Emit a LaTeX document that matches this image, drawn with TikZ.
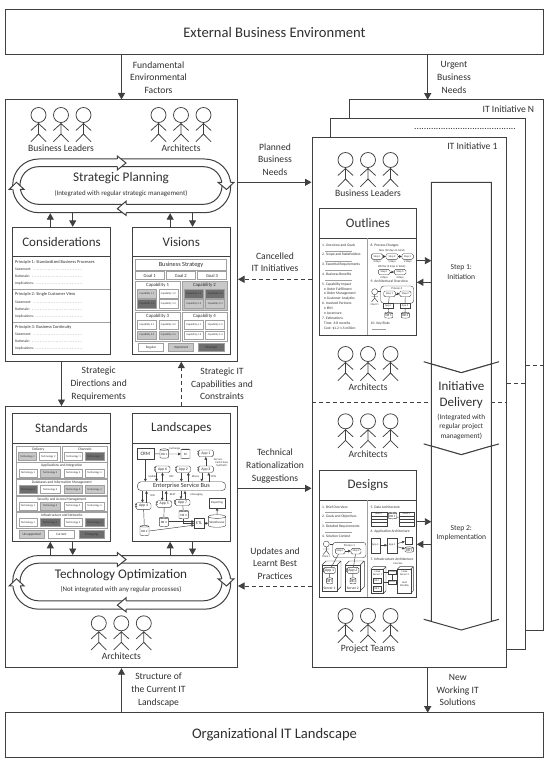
\documentclass[tikz,border=0pt]{standalone}
\usepackage{fontspec}
\setmainfont{Carlito}
\usepackage{tikz}
\usetikzlibrary{arrows.meta,shapes.geometric}
\definecolor{inkGray}{HTML}{303030}
\definecolor{lineGray}{HTML}{404040}
\definecolor{rimGray}{HTML}{A0A0A0}
\definecolor{lightFill}{HTML}{C8C8C8}
\definecolor{darkFill}{HTML}{6E6E6E}
\tikzstyle{heavyBox}=[shape = rectangle, draw = lineGray, line width = 1pt, fill = white, inner sep = 0pt]
\tikzstyle{titleBox}=[heavyBox, font = \fontsize{14.6}{16}\selectfont]
\tikzstyle{flow}=[draw = lineGray, line width = 0.9pt, -{Triangle[length = 6.5pt, width = 7pt]}]
\tikzstyle{flowDash}=[flow, dash pattern = on 4pt off 3pt]
\tikzstyle{flowLabel}=[align = center, font = \fontsize{9.6}{12.6}\selectfont]
\tikzstyle{crowdLabel}=[font = \fontsize{9.6}{12}\selectfont]
\tikzstyle{panelTitle}=[font = \fontsize{13}{15}\selectfont]
\tikzstyle{ringTitle}=[font = \fontsize{13.2}{15}\selectfont]
\tikzstyle{ringNote}=[font = \fontsize{6.9}{8}\selectfont]
\tikzstyle{regularCell}=[shape = rectangle, draw = rimGray, line width = 0.5pt, fill = white, inner sep = 0pt, font = \fontsize{2.7}{3}\selectfont]
\tikzstyle{importantCell}=[regularCell, fill = lightFill]
\tikzstyle{strategicCell}=[regularCell, fill = darkFill]
\tikzstyle{panelCell}=[regularCell, font = \fontsize{4.6}{5}\selectfont]
\tikzstyle{microText}=[inner sep = 0pt, font = \fontsize{3.6}{4}\selectfont]
\tikzstyle{smallText}=[inner sep = 0pt, font = \fontsize{4.4}{5}\selectfont]
\tikzstyle{wire}=[draw = lineGray, line width = 0.45pt]
\tikzstyle{wireTip}=[wire, -{Triangle[length = 2.6pt, width = 2.6pt]}]
\tikzstyle{sketchBox}=[regularCell, draw = lineGray, line width = 0.4pt, font = \fontsize{3}{3.5}\selectfont]
\tikzstyle{appBox}=[sketchBox, rounded corners = 1.5pt, font = \fontsize{3.8}{4}\selectfont]
\tikzstyle{dbDrum}=[shape = cylinder, shape border rotate = 90, aspect = 0.25, draw = lineGray, line width = 0.4pt, fill = white, inner sep = 0pt, font = \fontsize{3.2}{4}\selectfont]
\newcommand{\RBox}[7][heavyBox]{%
\pgfmathsetmacro\bW{(#5)-(#3)}\pgfmathsetmacro\bH{(#6)-(#4)}%
\node[#1, minimum width = \bW pt, minimum height = \bH pt] (#2) at ({((#3)+(#5))/2},{((#4)+(#6))/2}) {#7};}
\newcommand{\Drum}[6]{%
\pgfmathsetmacro\bW{(#4)-(#2)}\pgfmathsetmacro\bH{(#5)-(#3)}%
\node[dbDrum, minimum width = \bW pt, minimum height = \bH pt] (#1) at ({((#2)+(#4))/2},{((#3)+(#5))/2}) {#6};}
\newcommand{\Person}[3]{%
\node[shape = circle, draw = lineGray, line width = 0.75pt, inner sep = 0pt, minimum size = 15pt] (#1) at (#2,#3) {};
\draw[draw = lineGray, line width = 0.75pt] (#1.south) -- (#2,#3+19) -- (#2-7.6,#3+26.7) (#2,#3+19) -- (#2+7.6,#3+26.7) (#2-7.6,#3+15.5) -- (#2,#3+8.5) -- (#2+7.6,#3+15.5);}
\newcommand{\Crowd}[4]{%
\Person{#1a}{#2-22.5}{#3}\Person{#1b}{#2}{#3}\Person{#1c}{#2+22.5}{#3}
\node[crowdLabel] (#1label) at (#2,#3+33.3) {#4};}
\newcommand{\Cycle}[4]{%
\begin{scope}[shift = {(0,#2)}]
\RBox[heavyBox, rounded corners = 26pt]{#1Out}{12.7}{159}{230.7}{212.7}{}
\RBox[heavyBox, rounded corners = 18.5pt]{#1In}{20}{166.7}{222}{204.3}{}
\draw[draw = lineGray, line width = 1pt, fill = white] (117.3,159) -- (117.3,156) -- (126,163) -- (117.3,170) -- (117.3,166.7);
\draw[draw = lineGray, line width = 1pt, fill = white] (222,182.3) -- (218,182.3) -- (226.5,189.5) -- (234,182.3) -- (230.7,182.3);
\draw[draw = lineGray, line width = 1pt, fill = white] (126,212.7) -- (126,215.3) -- (117.3,208.7) -- (126,201.3) -- (126,204.3);
\draw[draw = lineGray, line width = 1pt, fill = white] (12.7,189.3) -- (9.3,189.3) -- (16.5,182.3) -- (24,189.3) -- (20,189.3);
\node[ringTitle] (#1Title) at (121,178.3) {#3};
\node[ringNote] (#1Note) at (121,193.3) {#4};
\end{scope}}
\newcommand{\CapPanel}[8]{%
\RBox[#2]{cap#1}{#3}{#4}{#3+44.6}{#4+29.4}{}
\node[smallText, font = \fontsize{4.8}{5}\selectfont] (cap#1t) at (#3+22.3,#4+4) {Capability #1};
\RBox[#5]{cap#1a}{#3+2}{#4+8.4}{#3+21}{#4+17}{Capability #1.1}
\RBox[#6]{cap#1b}{#3+23.5}{#4+8.4}{#3+42.5}{#4+17}{Capability #1.2}
\RBox[#7]{cap#1c}{#3+2}{#4+18.6}{#3+21}{#4+27.4}{Capability #1.3}
\RBox[#8]{cap#1d}{#3+23.5}{#4+18.6}{#3+42.5}{#4+27.4}{Capability #1.4}}
\newcommand{\AppBox}[6]{%
\RBox[appBox]{#1}{#2}{#3}{#4}{#5}{#6}
\node[shape = circle, draw = lineGray, line width = 0.3pt, fill = white, inner sep = 0pt, minimum size = 1.6pt] (#1p) at (#2,#3+1.7) {};
\node[shape = circle, draw = lineGray, line width = 0.3pt, fill = white, inner sep = 0pt, minimum size = 1.6pt] (#1q) at (#2,#3+3.8) {};}
\newcommand{\ServerBox}[7]{%
\RBox[sketchBox]{#1}{#2}{#3+#6}{#4-#6}{#5}{}
\draw[wire] (#2,#3+#6) -- (#2+#6,#3) -- (#4,#3) -- (#4,#5-#6) -- (#4-#6,#5) (#4-#6,#3+#6) -- (#4,#3);
\node[microText] (#1t) at ({(#2+#4-#6)/2},#5-2.5) {#7};}
\begin{document}
\begin{tikzpicture}[x = 1pt, y = -1pt, every node/.style = {text = inkGray}]
\useasboundingbox (0,0) rectangle (552,762);
\fill[white] (0,0) rectangle (552,762);
\RBox[titleBox]{extern}{5.5}{10}{543.5}{55}{External Business Environment}
\RBox[titleBox]{orgIT}{5.5}{712.7}{543.5}{757}{Organizational IT Landscape}
\RBox{plan}{5.5}{100}{237.5}{361.7}{}
\RBox{tech}{5.5}{406.5}{237.5}{667.7}{}
\RBox{initN}{349.3}{99.7}{543.5}{630}{}
\RBox{initTwo}{330.3}{118.3}{525.3}{649}{}
\RBox{initOne}{312}{137.3}{506.5}{667.7}{}
\node[crowdLabel, anchor = east] (initNt) at (537.7,109.3) {IT Initiative N};
\node[crowdLabel, anchor = east] (initTwot) at (519.5,129) {..........................................};
\node[crowdLabel, anchor = east] (initOnet) at (501,146.7) {IT Initiative 1};
\Crowd{leaders}{61}{115}{Business Leaders}
\Crowd{archPlan}{181}{115}{Architects}
\Crowd{archTech}{121.3}{623.3}{Architects}
\Crowd{leadersOne}{368}{160}{Business Leaders}
\Crowd{archOne}{368}{354}{Architects}
\Crowd{archTwo}{368}{421.3}{Architects}
\Crowd{teams}{368}{616}{Project Teams}
\Cycle{plc}{0}{Strategic Planning}{(Integrated with regular strategic management)}
\Cycle{opt}{396.5}{Technology Optimization}{(Not integrated with any regular processes)}
\RBox{cons}{12.7}{227.3}{110.3}{354.3}{}
\RBox{vis}{132.7}{227.3}{230}{354.3}{}
\RBox{stand}{12.7}{413.7}{110.3}{541.3}{}
\RBox{land}{132.7}{413.7}{230}{541.3}{}
\draw[heavyBox] (12.7,256.7) -- (110.3,256.7) (132.7,256.7) -- (230,256.7) (12.7,443.3) -- (110.3,443.3) (132.7,443.3) -- (230,443.3);
\node[panelTitle] (consT) at (61.5,242) {Considerations};
\node[panelTitle] (visT) at (181.3,242) {Visions};
\node[panelTitle] (standT) at (61.5,428.5) {Standards};
\node[panelTitle] (landT) at (181.3,428.5) {Landscapes};
\draw[flow] (extern.south -| plan.north) -- (plan.north);
\draw[flow] (orgIT.north -| tech.south) -- (tech.south);
\draw[flow] (plan.south -| cons.north) -- (tech.north -| cons.north);
\coordinate (urgentEnd) at (427.7,99.7);
\coordinate (deliverEnd) at (427.7,712.7);
\coordinate (capsEnd) at (181.3,361.7);
\draw[flow] (extern.south -| urgentEnd) -- (urgentEnd);
\draw[flow] (initOne.south -| deliverEnd) -- (deliverEnd);
\draw[flowDash] (tech.north -| capsEnd) -- (capsEnd);
\draw[flow] ([xshift = -11.2pt]cons.north) -- ([xshift = -11.2pt]cons.north |- plcOut.south);
\draw[flow] ([xshift = 11.2pt]cons.north |- plcOut.south) -- ([xshift = 11.2pt]cons.north);
\draw[flow] ([xshift = -11.2pt]vis.north) -- ([xshift = -11.2pt]vis.north |- plcOut.south);
\draw[flow] ([xshift = 11.2pt]vis.north |- plcOut.south) -- ([xshift = 11.2pt]vis.north);
\draw[flow] ([xshift = -11.2pt]stand.south |- optOut.north) -- ([xshift = -11.2pt]stand.south);
\draw[flow] ([xshift = 11.2pt]stand.south) -- ([xshift = 11.2pt]stand.south |- optOut.north);
\draw[flow] ([xshift = -11.2pt]land.south |- optOut.north) -- ([xshift = -11.2pt]land.south);
\draw[flow] ([xshift = 11.2pt]land.south) -- ([xshift = 11.2pt]land.south |- optOut.north);
\coordinate (plannedY) at (0,182.3);
\coordinate (cancelY) at (0,279.3);
\coordinate (suggestY) at (0,488.3);
\coordinate (updateY) at (0,586);
\draw[flow] (plan.east |- plannedY) -- (initOne.west |- plannedY);
\draw[flowDash] (initOne.west |- cancelY) -- (plan.east |- cancelY);
\draw[flow] (tech.east |- suggestY) -- (initOne.west |- suggestY);
\draw[flowDash] (initOne.west |- updateY) -- (tech.east |- updateY);
\node[flowLabel] (lblFund) at (158.5,77.5) {Fundamental\\Environmental\\Factors};
\node[flowLabel] (lblUrgent) at (454,77.5) {Urgent\\Business\\Needs};
\node[flowLabel] (lblPlanned) at (275,159.5) {Planned\\Business\\Needs};
\node[flowLabel] (lblCancel) at (275,262.3) {Cancelled\\IT Initiatives};
\node[flowLabel] (lblDirect) at (98.7,384) {Strategic\\Directions and\\Requirements};
\node[flowLabel] (lblCaps) at (222,384) {Strategic IT\\Capabilities and\\Constraints};
\node[flowLabel] (lblTech) at (275,466) {Technical\\Rationalization\\Suggestions};
\node[flowLabel] (lblUpdate) at (275,563.3) {Updates and\\Learnt Best\\Practices};
\node[flowLabel] (lblStruct) at (158.5,690) {Structure of\\the Current IT\\Landscape};
\node[flowLabel] (lblNew) at (457.7,690) {New\\Working IT\\Solutions};
\foreach \p/\py/\ptxt in {1/262/Principle 1: Standardized Business Processes, 2/294.7/Principle 2: Single Customer View, 3/327/Principle 3: Business Continuity}{
\node[smallText, anchor = west] (pr\p) at (15,\py) {\ptxt};
\foreach \q/\qy/\qtxt in {a/7.4/Statement:, b/14.7/Rationale:, c/22/Implications:}{
\node[microText, anchor = west, text width = 68pt] (pr\p\q) at (15,\py+\qy) {\qtxt\ \dotfill};
}}
\draw[draw = rimGray, line width = 0.6pt] (12.7,289.7) -- (110.3,289.7) (12.7,322) -- (110.3,322);
\RBox[panelCell, font = \fontsize{6.3}{7}\selectfont]{bizStrategy}{135.3}{259.3}{226.7}{270}{Business Strategy}
\RBox[panelCell]{goalA}{135.3}{271.7}{164}{279.7}{Goal 1}
\RBox[panelCell]{goalB}{166}{271.7}{195.7}{279.7}{Goal 2}
\RBox[panelCell]{goalC}{197.3}{271.7}{226.7}{279.7}{Goal 3}
\CapPanel{1}{regularCell}{135.3}{281}{importantCell}{regularCell}{strategicCell}{regularCell}
\CapPanel{2}{importantCell}{182.2}{281}{strategicCell}{strategicCell}{importantCell}{importantCell}
\CapPanel{3}{regularCell}{135.3}{312.2}{regularCell}{regularCell}{importantCell}{importantCell}
\CapPanel{4}{regularCell}{182.2}{312.2}{regularCell}{regularCell}{regularCell}{regularCell}
\RBox[regularCell, font = \fontsize{3.4}{4}\selectfont]{visReg}{138.3}{343.4}{163.7}{351.4}{Regular}
\RBox[importantCell, font = \fontsize{3.4}{4}\selectfont]{visImp}{168.3}{343.4}{193.7}{351.4}{Important}
\RBox[strategicCell, font = \fontsize{3.4}{4}\selectfont]{visStr}{198.3}{343.4}{224.3}{351.4}{Strategic}
\RBox[regularCell]{delivPanel}{16}{446}{60.7}{462}{}
\RBox[regularCell]{chanPanel}{62}{446}{107.7}{462}{}
\node[microText] (delivT) at (38.3,449.3) {Delivery};
\node[microText] (chanT) at (84.8,449.3) {Channels};
\RBox[importantCell]{delivA}{18.5}{452.4}{36.7}{460.2}{Technology 1}
\RBox[regularCell]{delivB}{39}{452.4}{57.5}{460.2}{Technology 2}
\RBox[regularCell]{chanA}{64.3}{452.4}{82.7}{460.2}{Technology 1}
\RBox[strategicCell]{chanB}{85}{452.4}{104}{460.2}{Technology 2}
\foreach \rowN/\ry/\rtxt/\fa/\fb/\fc/\fd in {1/462.7/Applications and Integration/regularCell/importantCell/regularCell/regularCell, 2/479.3/Databases and Information Management/strategicCell/regularCell/importantCell/importantCell, 3/495.9/Security and Access Management/regularCell/importantCell/regularCell/regularCell, 4/512.3/Infrastructure and Networks/regularCell/strategicCell/regularCell/strategicCell}{
\RBox[regularCell]{row\rowN}{16}{\ry}{107.7}{\ry+15.8}{}
\node[microText] (row\rowN t) at (61.8,\ry+3.3) {\rtxt};
\RBox[\fa]{row\rowN a}{19}{\ry+6.4}{36.9}{\ry+14.2}{Technology 1}
\RBox[\fb]{row\rowN b}{40.3}{\ry+6.4}{60}{\ry+14.2}{Technology 2}
\RBox[\fc]{row\rowN c}{64}{\ry+6.4}{82.3}{\ry+14.2}{Technology 3}
\RBox[\fd]{row\rowN d}{85}{\ry+6.4}{104}{\ry+14.2}{Technology 4}
}
\RBox[importantCell, font = \fontsize{3.4}{4}\selectfont]{stdOld}{19.3}{530.7}{44}{538}{Unsupported}
\RBox[regularCell, font = \fontsize{3.4}{4}\selectfont]{stdCur}{48.7}{530.7}{74}{538}{Current}
\RBox[strategicCell, font = \fontsize{3.4}{4}\selectfont]{stdNew}{79.3}{530.7}{104}{538}{Emerging}
\RBox[sketchBox, font = \fontsize{5}{6}\selectfont]{crm}{136.7}{448.3}{154}{459.3}{CRM}
\Drum{dbOne}{160}{449.3}{168.3}{458.7}{DB 1}
\Drum{bi}{181}{449.3}{190}{458.7}{BI}
\AppBox{appOne}{198.3}{450}{213.3}{456.7}{App 1}
\AppBox{appSix}{155}{466}{170}{472.5}{App 6}
\AppBox{appTwo}{176}{466}{190.7}{472.5}{App 2}
\AppBox{appThree}{198.3}{466}{213.3}{472.5}{App 3}
\AppBox{appFour}{136}{502.7}{151}{509.3}{App 4}
\AppBox{appFive}{156.7}{500.7}{171.7}{507.3}{App 5}
\AppBox{appSeven}{175}{499.3}{190}{505.5}{App 7}
\RBox[sketchBox, rounded corners = 4pt, font = \fontsize{6.3}{7}\selectfont]{esb}{137.3}{481.7}{225.7}{490.7}{Enterprise Service Bus}
\RBox[sketchBox]{report}{209.3}{498.3}{225}{507.7}{Reporting}
\Drum{dbFour}{179}{510.7}{188.3}{519.3}{DB 4}
\Drum{dbThree}{159.3}{517.7}{168.3}{527}{DB 3}
\Drum{dbTwo}{140}{526}{149}{536}{DB 2}
\RBox[sketchBox, font = \fontsize{4.2}{5}\selectfont]{etl}{194.3}{518.3}{204}{528.3}{ETL}
\Drum{house}{208.3}{515.7}{225.7}{528.3}{Warehouse}
\draw[wire] (crm) -- (dbOne);
\draw[wireTip] (dbOne) -- (bi);
\draw[wireTip] (crm.south) -- (crm.south |- esb.north);
\draw[wireTip] (appThree.north) -- (appOne.south);
\foreach \app/\dx/\ux in {appSix/-6/0, appTwo/-2/5, appThree/-4/3}{
\draw[wireTip] ([xshift = \dx pt]\app.south) -- ([xshift = \dx pt]\app.south |- esb.north);
\draw[wireTip] ([xshift = \ux pt]\app.south |- esb.north) -- ([xshift = \ux pt]\app.south);
}
\foreach \app/\dx/\ux in {appFour/-1/3, appFive/-2/2, appSeven/-1.5/2.5}{
\draw[wireTip] ([xshift = \dx pt]\app.north |- esb.south) -- ([xshift = \dx pt]\app.north);
\draw[wireTip] ([xshift = \ux pt]\app.north) -- ([xshift = \ux pt]\app.north |- esb.south);
}
\draw[wire] (appFour) -- (dbTwo);
\draw[wire] (appFive) -- (dbThree);
\draw[wire] (appSeven) -- (dbFour);
\draw[wireTip] (dbThree.east |- etl.160) -- (etl.160);
\draw[wireTip] (dbFour.south) |- (etl.west);
\draw[wireTip] (dbTwo.east) -- (etl.200);
\draw[wireTip] (etl.east) -- (etl.east -| house.west);
\draw[wireTip] (house.north) -- (report.south);
\node[microText, font = \fontsize{2.8}{3}\selectfont] (lblExch) at (175,449) {Exchange};
\node[microText, font = \fontsize{2.8}{3}\selectfont] (lblServ) at (218,459.5) {Service};
\node[microText, font = \fontsize{2.8}{3}\selectfont, align = center] (lblCash) at (221.7,464) {Cash Flows\\Synthetic};
\node[microText, font = \fontsize{2.8}{3}\selectfont] (lblUpd) at (152.7,476.7) {Update};
\node[microText, font = \fontsize{2.8}{3}\selectfont] (lblRpc) at (171.7,476.7) {RPC};
\node[microText, font = \fontsize{2.8}{3}\selectfont] (lblBin) at (195.7,476.7) {Binary};
\node[microText, font = \fontsize{2.8}{3}\selectfont] (lblFcw) at (213.5,476.7) {FCW};
\node[microText, font = \fontsize{2.8}{3}\selectfont] (lblSoa) at (152.7,496) {SOA};
\node[microText, font = \fontsize{2.8}{3}\selectfont] (lblRest) at (172.7,495) {REST};
\node[microText, font = \fontsize{2.8}{3}\selectfont] (lblMsg) at (196.7,494.3) {Messaging};
\RBox{outl}{319.3}{208.3}{416.3}{335.3}{}
\RBox{dsgn}{319.3}{470}{416.3}{597.3}{}
\draw[heavyBox] (319.3,238.3) -- (416.3,238.3) (319.3,500) -- (416.3,500);
\draw[draw = rimGray, line width = 0.7pt] (367.7,238.3) -- (367.7,335.3) (367.7,500) -- (367.7,597.3);
\node[panelTitle] (outlT) at (368,223.3) {Outlines};
\node[panelTitle] (dsgnT) at (368,485) {Designs};
\foreach \n/\ny/\ntxt in {1/245.3/1. Overview and Goals, 2/255/2. Scope and Stakeholders, 3/264.7/3. Essential Requirements, 4/274.3/4. Business Benefits, 5/284.3/5. Capability Impact, 6/303.3/6. Involved Partners, 7/318.3/7. Estimations}{
\node[microText, anchor = west] (outLeft\n) at (322,\ny) {\ntxt};
}
\foreach \n/\ny/\ntxt in {a/289/Order Fulfillment, b/294/Order Management, c/298.7/Customer Analytics, d/308.7/IBM, e/313.3/Accenture}{
\node[microText, anchor = west] (outBul\n) at (324,\ny) {\textbullet\ \ntxt};
}
\node[microText, anchor = west] (outTime) at (324,323) {Time: 6-8 months};
\node[microText, anchor = west] (outCost) at (324,328) {Cost: \$1.2-1.5 million};
\foreach \ry in {251,261,270,280}{
\draw[draw = rimGray, line width = 0.4pt] (325,\ry) -- (352,\ry);
}
\node[microText, anchor = west] (outEight) at (370.3,245.3) {8. Process Changes};
\node[microText, font = \fontsize{2.9}{3}\selectfont] (nowT) at (392,251) {Now (10 days in total):};
\RBox[appBox, font = \fontsize{2.7}{3}\selectfont]{stepNowA}{371.3}{253.7}{382.7}{259.3}{Step 1}
\RBox[appBox, font = \fontsize{2.7}{3}\selectfont]{stepNowB}{386}{253.7}{398}{259.3}{Step 2}
\RBox[appBox, font = \fontsize{2.7}{3}\selectfont]{stepNowC}{402}{253.7}{413.3}{259.3}{Step 3}
\draw[wireTip] (stepNowA) -- (stepNowB);
\draw[wireTip] (stepNowB) -- (stepNowC);
\node[microText, font = \fontsize{2.9}{3}\selectfont] (daysA) at (377,261.9) {3 days};
\node[microText, font = \fontsize{2.9}{3}\selectfont] (daysB) at (392,261.9) {5 days};
\node[microText, font = \fontsize{2.9}{3}\selectfont] (daysC) at (407.7,261.9) {2 days};
\node[microText, font = \fontsize{2.9}{3}\selectfont] (newT) at (392,266.7) {Will be (5 days in total):};
\RBox[appBox, font = \fontsize{2.7}{3}\selectfont]{stepNewA}{378.3}{269.3}{390}{274.7}{Step 1}
\RBox[appBox, font = \fontsize{2.7}{3}\selectfont]{stepNewB}{394.3}{269.3}{406}{274.7}{Step 3}
\draw[wireTip] (stepNewA) -- (stepNewB);
\node[microText, font = \fontsize{2.9}{3}\selectfont] (daysD) at (384,277.4) {2 days};
\node[microText, font = \fontsize{2.9}{3}\selectfont] (daysE) at (400,277.4) {3 days};
\node[microText, anchor = west] (outNine) at (370.3,281.7) {9. Architectural Overview};
\node[shape = circle, draw = lineGray, line width = 0.4pt, fill = white, inner sep = 0pt, minimum size = 6pt] (clientHead) at (374.7,291.7) {};
\draw[wire] (clientHead.south) -- (374.7,298) -- (371.5,302) (374.7,298) -- (377.9,302) (371.5,296.5) -- (377.9,296.5);
\node[microText, font = \fontsize{2.7}{3}\selectfont] (clientT) at (374.7,304.8) {Client 1};
\RBox[sketchBox, rounded corners = 3pt]{procBox}{380.7}{286}{413.7}{303.3}{}
\node[microText, font = \fontsize{2.9}{3}\selectfont] (procT) at (397,288.4) {Process 1};
\RBox[appBox, font = \fontsize{2.7}{3}\selectfont]{procA}{383.7}{291}{395.3}{296.7}{Step 1}
\RBox[appBox, font = \fontsize{2.7}{3}\selectfont]{procB}{399.7}{291}{411}{296.7}{Step 2}
\draw[wireTip] (procA) -- (procB);
\draw[wire] (clientHead.east) -- (procBox.west |- clientHead.east);
\RBox[sketchBox, font = \fontsize{2.7}{3}\selectfont]{svcA}{383.3}{303.3}{393.3}{308}{App 1}
\RBox[sketchBox, font = \fontsize{2.7}{3}\selectfont]{svcB}{400}{303.3}{410}{308}{App 2}
\Drum{svcDbA}{384.7}{312.8}{392.7}{318.6}{DB 1}
\Drum{svcDbB}{401.3}{312.8}{409.3}{318.6}{DB 2}
\draw[wire] (procA) -- (svcA);
\draw[wire] (procB) -- (svcB);
\draw[wire] (svcA) -- (svcDbA);
\draw[wire] (svcB) -- (svcDbB);
\node[microText, anchor = west] (outTen) at (370.7,323.3) {10. Key Risks};
\draw[draw = rimGray, line width = 0.4pt] (372,329.3) -- (386,329.3);
\foreach \n/\ny/\ntxt in {1/507/1. Brief Overview, 2/516.7/2. Goals and Objectives, 3/526.3/3. Detailed Requirements, 4/536/4. Solution Context}{
\node[microText, anchor = west] (dsgLeft\n) at (322,\ny) {\ntxt};
}
\foreach \ry in {512.3,522,532}{
\draw[draw = rimGray, line width = 0.4pt] (325,\ry) -- (352,\ry);
}
\node[shape = circle, draw = lineGray, line width = 0.4pt, fill = white, inner sep = 0pt, minimum size = 6pt] (custHead) at (326.3,544) {};
\draw[wire] (custHead.south) -- (326.3,550.5) -- (323.3,554.5) (326.3,550.5) -- (329.3,554.5) (323.3,549) -- (329.3,549);
\node[microText, font = \fontsize{2.7}{3}\selectfont] (custT) at (326.3,556.8) {Client 1};
\RBox[sketchBox, rounded corners = 3pt]{flowBox}{332.7}{542.3}{366}{557.7}{}
\node[microText, font = \fontsize{2.9}{3}\selectfont] (flowT) at (349.3,545.3) {Process 1};
\RBox[appBox, font = \fontsize{2.7}{3}\selectfont]{flowA}{335.3}{548.3}{345}{554}{Step 1}
\RBox[appBox, font = \fontsize{2.7}{3}\selectfont]{flowB}{351}{548.3}{361}{554}{Step 2}
\draw[wireTip] (flowA) -- (flowB);
\draw[wire] (custHead.east) -- (flowBox.west |- custHead.east);
\ServerBox{srvA}{322}{561}{341}{590.7}{4}{Server 1}
\ServerBox{srvB}{345.3}{561}{364.3}{590.7}{4}{Server 2}
\AppBox{srvAppA}{323.7}{567.3}{335.5}{573.3}{App 1}
\AppBox{srvAppB}{347}{567.3}{358.8}{573.3}{App 2}
\Drum{srvDbA}{326.7}{578.3}{332.7}{584.3}{DB 1}
\Drum{srvDbB}{350}{578.3}{356}{584.3}{DB 2}
\draw[wire] (flowA) -- (srvAppA);
\draw[wire] (flowB) -- (srvAppB);
\draw[wire] (srvAppA) -- (srvDbA);
\draw[wire] (srvAppB) -- (srvDbB);
\node[microText, anchor = west] (dsgFive) at (370.3,507) {5. Data Architecture};
\RBox[sketchBox, font = \fontsize{2.7}{3}\selectfont]{tblA}{370.7}{512.3}{386.7}{526}{}
\RBox[sketchBox, font = \fontsize{2.7}{3}\selectfont]{tblB}{398.7}{512.3}{413.7}{526}{}
\node[microText, font = \fontsize{2.7}{3}\selectfont] (tblAt) at (378.7,514) {Table 1};
\node[microText, font = \fontsize{2.7}{3}\selectfont] (tblBt) at (406.2,514) {Table 2};
\foreach \ry in {516,519.3,522.6}{
\draw[wire] (370.7,\ry) -- (386.7,\ry) (398.7,\ry) -- (413.7,\ry);
}
\Drum{tblDb}{388.3}{512.7}{396.7}{519.3}{DB 1}
\draw[wire] (tblDb) -- (tblA);
\draw[wire] (tblDb) -- (tblB);
\node[microText, anchor = west] (dsgSix) at (370.3,532) {6. Application Architecture};
\RBox[sketchBox, font = \fontsize{2.7}{3}\selectfont]{archA}{370.7}{537.7}{380}{552.7}{App 4}
\RBox[sketchBox, font = \fontsize{2.7}{3}\selectfont]{archB}{387.3}{537.7}{396.7}{552.7}{App 5}
\RBox[sketchBox]{archDoc}{405}{536.7}{411.7}{544}{}
\Drum{archDb}{405}{547.3}{413.3}{552.7}{DB 1}
\draw[wireTip] (archA) -- (archB);
\draw[wireTip] (archB) -- (archDb);
\draw[wireTip] (archB) -- (archDoc);
\node[microText, anchor = west] (dsgSeven) at (370.3,559.3) {7. Infrastructure Architecture};
\node[microText, font = \fontsize{2.7}{3}\selectfont] (netT) at (398,563.4) {Internet};
\ServerBox{hostA}{370.7}{566.7}{386}{593.3}{2.5}{}
\ServerBox{hostB}{397.3}{566.7}{413.3}{593.3}{2.5}{}
\node[microText, font = \fontsize{2.7}{3}\selectfont, align = center] (hostAt) at (377.5,573) {Linux\\Server 1};
\node[microText, font = \fontsize{2.7}{3}\selectfont, align = center] (hostBt) at (404.5,573) {Linux\\Server 2};
\node[microText, font = \fontsize{2.7}{3}\selectfont, align = center] (hostBs) at (404.5,584) {Host\\Standby};
\RBox[sketchBox, font = \fontsize{2.5}{3}\selectfont]{hostDbA}{373}{578}{381}{583}{DB 1}
\RBox[sketchBox, font = \fontsize{2.5}{3}\selectfont]{hostDbB}{373}{586}{381}{591}{DB 2}
\RBox[sketchBox, font = \fontsize{2.3}{3}\selectfont]{fwall}{388.3}{570}{396}{574}{Firewall}
\RBox[sketchBox, font = \fontsize{2.3}{3}\selectfont]{swtch}{388.3}{580}{396}{584.3}{Switch}
\draw[wire] (fwall) -- (swtch);
\draw[wire] (fwall.west) -- (fwall.west -| hostA.east);
\draw[wire] (swtch.west) -- (swtch.west -| hostA.east);
\draw[wire] (fwall.east) -- (fwall.east -| hostB.west);
\draw[wire] (swtch.east) -- (swtch.east -| hostB.west);
\draw[draw = lineGray, line width = 1pt, fill = white] (431.3,182.3) -- (491.3,182.3) -- (491.3,364) -- (499,361.7) -- (461.3,372.7) -- (423.7,361.7) -- (431.3,364) -- cycle;
\draw[draw = lineGray, line width = 1pt, fill = white] (431.3,364) -- (461.3,372.7) -- (491.3,364) -- (491.3,446) -- (499,443.9) -- (461.3,454.7) -- (423.7,443.9) -- (431.3,446) -- cycle;
\draw[draw = lineGray, line width = 1pt, fill = white] (431.3,446) -- (461.3,454.7) -- (491.3,446) -- (491.3,621.3) -- (499,619.3) -- (461.3,630) -- (423.7,619.3) -- (431.3,621.3) -- cycle;
\coordinate (stepOneRight) at (431.3,260.7);
\coordinate (stepOneLeft) at (431.3,282.3);
\coordinate (stepTwoRight) at (431.3,521.7);
\coordinate (stepTwoLeft) at (431.3,544.3);
\draw[flow] (outl.east |- stepOneRight) -- (stepOneRight);
\draw[flow] (stepOneLeft) -- (outl.east |- stepOneLeft);
\draw[flow] (dsgn.east |- stepTwoRight) -- (stepTwoRight);
\draw[flow] (stepTwoLeft) -- (dsgn.east |- stepTwoLeft);
\node[align = center, font = \fontsize{7.6}{9.4}\selectfont] (stepOneT) at (461.3,272) {Step 1:\\Initiation};
\node[align = center, font = \fontsize{7.6}{9.4}\selectfont] (stepTwoT) at (461.3,533.2) {Step 2:\\Implementation};
\node[align = center, font = \fontsize{13}{16}\selectfont] (delivLbl) at (461.3,395.3) {Initiative\\Delivery};
\node[align = center, font = \fontsize{7.3}{9.5}\selectfont] (delivN) at (461.3,426.8) {(Integrated with\\regular project\\management)};
\coordinate (dashOneL) at (312,402.3);
\coordinate (dashOneA) at (431.3,402.3);
\coordinate (dashOneB) at (491.3,402.3);
\coordinate (dashTwoY) at (0,383.7);
\coordinate (dashNY) at (0,365);
\draw[draw = lineGray, line width = 0.9pt, dash pattern = on 4pt off 3pt] (dashOneL) -- (dashOneA) (dashOneB) -- (initOne.east |- dashOneB);
\draw[draw = lineGray, line width = 0.9pt, dash pattern = on 4pt off 3pt] (initOne.east |- dashTwoY) -- (initTwo.east |- dashTwoY);
\draw[draw = lineGray, line width = 0.9pt, dash pattern = on 4pt off 3pt] (initTwo.east |- dashNY) -- (initN.east |- dashNY);
\end{tikzpicture}
\end{document}
